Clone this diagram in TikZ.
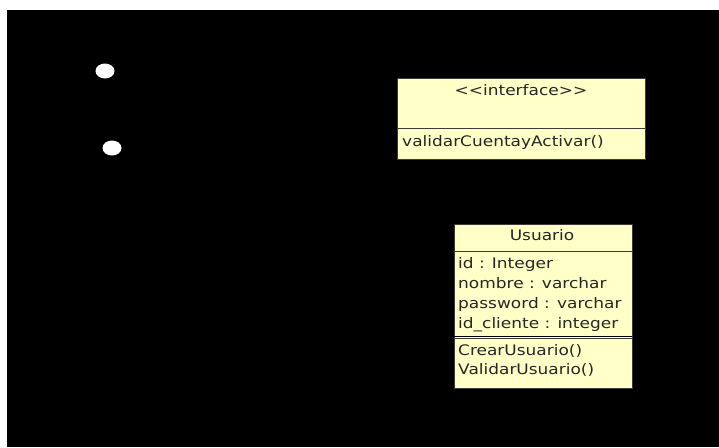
\documentclass[tikz,border=0pt]{standalone}
\usepackage{fontspec}
\setmainfont{DejaVu Sans}[FakeStretch=1.17,Ligatures=TeXOff]
\definecolor{classfill}{RGB}{255,255,200}
\definecolor{classline}{RGB}{60,60,50}
\definecolor{shade}{RGB}{110,110,95}
\tikzset{
  px/.style={x=1pt,y=-1pt},
  classbox/.style={draw=classline, line width=0.8pt, fill=classfill, inner sep=0pt},
  txt/.style={font=\fontsize{14.5}{17}\selectfont, inner sep=0pt, text=black!85},
  dot/.style={ellipse, fill=white, draw=none, minimum width=19pt, minimum height=15pt, inner sep=0pt},
  rule/.style={classline, line width=0.8pt},
  lowedge/.style={shade, line width=1.2pt}
}
\usetikzlibrary{shapes.geometric}
\begin{document}
\begin{tikzpicture}[px]
  \useasboundingbox (0,0) rectangle (719,447);
  \fill[white] (0,0) rectangle (719,447);
  \fill[black] (7,10) rectangle (719,447);

  % two small white markers
  \node[dot] (m1) at (105,71) {};
  \node[dot] (m2) at (112,148) {};

  % interface class
  \node[classbox, minimum width=248pt, minimum height=81pt, anchor=north west] (iface) at (397,78) {};
  \draw[rule] (397,128) -- (645,128);
  \draw[lowedge] ([yshift=-1.6pt]iface.south west) -- ([yshift=-1.6pt]iface.south east);
  \node[txt, anchor=base] (ifname) at (521,95) {<<interface>>};
  \node[txt, anchor=base west] (ifop) at (402,146) {validarCuentayActivar()};

  % Usuario class
  \node[classbox, minimum width=178pt, minimum height=164pt, anchor=north west] (usr) at (454,224) {};
  \draw[rule] (454,251) -- (632,251);
  \draw[rule] (454,338) -- (632,338);
  \draw[lowedge] (454,336.4) -- (632,336.4);
  \draw[lowedge] ([yshift=-1.6pt]usr.south west) -- ([yshift=-1.6pt]usr.south east);
  \node[txt, anchor=base] (uname) at (542,240) {Usuario};
  \node[txt, anchor=base west] (a1) at (458,268.5) {id : Integer};
  \node[txt, anchor=base west] (a2) at (458,288.5) {nombre : varchar};
  \node[txt, anchor=base west] (a3) at (458,308.5) {password : varchar};
  \node[txt, anchor=base west] (a4) at (458,328.5) {id\_cliente : integer};
  \node[txt, anchor=base west] (o1) at (458,355) {CrearUsuario()};
  \node[txt, anchor=base west] (o2) at (458,374.5) {ValidarUsuario()};
\end{tikzpicture}
\end{document}
